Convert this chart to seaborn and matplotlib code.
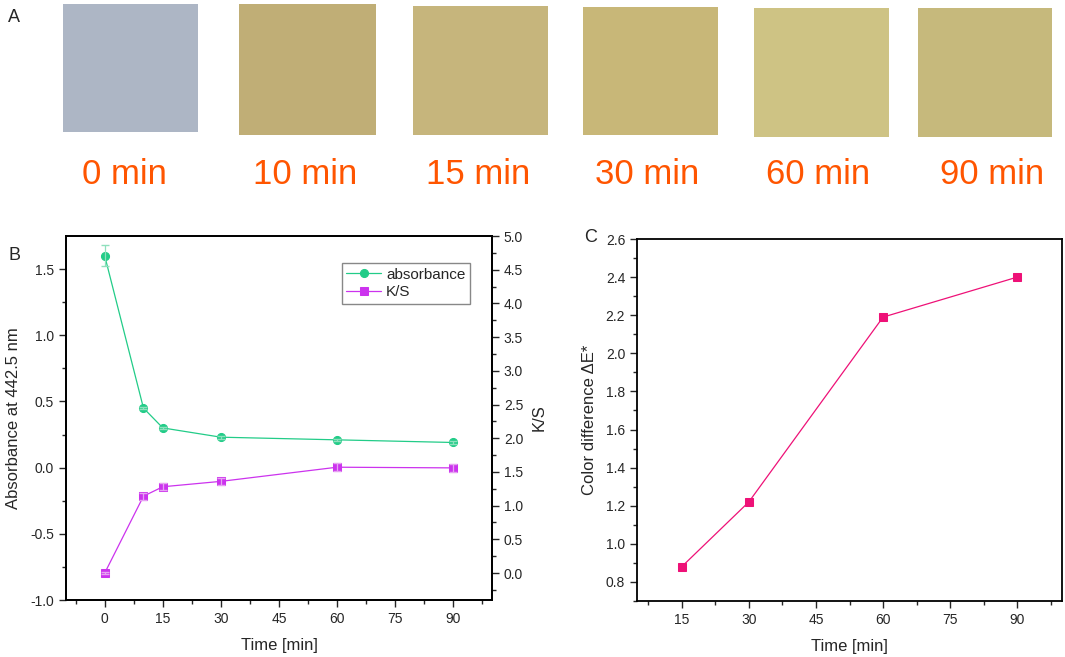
import numpy as np
import pandas as pd
import matplotlib.pyplot as plt
import seaborn as sns
from matplotlib.patches import Rectangle

sns.set_style("ticks")
plt.rcParams['font.family'] = ['Liberation Sans', 'DejaVu Sans']

# 데이터
swatch_labels = ["0 min", "10 min", "15 min", "30 min", "60 min", "90 min"]
swatch_colors = ["#adb6c5", "#c0ae76", "#c6b57c", "#c8b778", "#cec384", "#c6b97c"]

time_b = [0, 10, 15, 30, 60, 90]
absorbance = [1.60, 0.45, 0.30, 0.23, 0.21, 0.19]
absorbance_err = [0.08, 0.01, 0.01, 0.01, 0.01, 0.01]
ks = [0.0, 1.14, 1.28, 1.36, 1.57, 1.56]
ks_err = [0.01, 0.05, 0.05, 0.05, 0.06, 0.06]

time_c = [15, 30, 60, 90]
delta_e = [0.88, 1.22, 2.19, 2.40]

green = "#22cc88"
violet = "#cc33ee"
pink = "#ee1177"
orange = "#ff5500"

W, H = 1065, 657
fig = plt.figure(figsize=(W / 100, H / 100), dpi=100)

# ---- 패널 A : 원단 샘플 ----
ax_a = fig.add_axes([0, 0, 1, 1], zorder=-1)
ax_a.set_xlim(0, W)
ax_a.set_ylim(H, 0)
ax_a.axis("off")
boxes = [(63, 4, 198, 132), (239, 4, 376, 135), (413, 6, 548, 135),
         (583, 7, 718, 135), (754, 8, 889, 137), (918, 8, 1052, 137)]
label_x = [124, 305, 478, 647, 818, 992]
for (l, t, r, b), c, lab, lx in zip(boxes, swatch_colors, swatch_labels, label_x):
    ax_a.add_patch(Rectangle((l, t), r - l, b - t, facecolor=c, edgecolor="none"))
    ax_a.text(lx, 174, lab, color=orange, fontsize=25, ha="center", va="center")
ax_a.text(14, 17, "A", fontsize=13, ha="center", va="center")
ax_a.text(14, 255, "B", fontsize=13, ha="center", va="center")
ax_a.text(591, 238, "C", fontsize=13, ha="center", va="center")

# ---- 패널 B : absorbance / K/S ----
axb = fig.add_axes([66 / W, 1 - 600 / H, (492 - 66) / W, (600 - 236) / H])
axb2 = axb.twinx()

sns.lineplot(x=time_b, y=absorbance, ax=axb, color=green, marker="o",
             markersize=5.8, markeredgecolor=green, linewidth=0.9, label="absorbance",
             legend=False)
axb.errorbar(time_b, absorbance, yerr=absorbance_err, fmt="none",
             ecolor="#8fe0bd", elinewidth=0.9, capsize=3)
sns.lineplot(x=time_b, y=ks, ax=axb2, color=violet, marker="s",
             markersize=5.5, markeredgecolor=violet, linewidth=0.9, label="K/S",
             legend=False)
axb2.errorbar(time_b, ks, yerr=ks_err, fmt="none",
              ecolor="#e6a3f2", elinewidth=0.9, capsize=3)

axb.set_xlim(-10, 100)
axb.set_ylim(-1.0, 1.75)
axb2.set_ylim(-0.4, 5.0)
axb.set_xticks([0, 15, 30, 45, 60, 75, 90])
axb.set_xticks(np.arange(-7.5, 100, 15), minor=True)
axb.set_yticks([-1.0, -0.5, 0.0, 0.5, 1.0, 1.5])
axb.set_yticks(np.arange(-0.75, 1.75, 0.5), minor=True)
axb2.set_yticks(np.arange(0, 5.01, 0.5))
axb2.set_yticks(np.arange(-0.25, 5.0, 0.5), minor=True)
axb.set_yticklabels(["-1.0", "-0.5", "0.0", "0.5", "1.0", "1.5"])
axb2.set_yticklabels([f"{v:.1f}" for v in np.arange(0, 5.01, 0.5)])
axb.set_xlabel("Time [min]", fontsize=12, labelpad=9)
axb.set_ylabel("Absorbance at 442.5 nm", fontsize=12, labelpad=7)
axb2.set_ylabel("K/S", fontsize=12, labelpad=6)

for a in (axb, axb2):
    a.tick_params(which="major", length=5, width=1, labelsize=10, pad=3.5, direction="out")
    a.tick_params(which="minor", length=3, width=1, direction="out")
    for s in a.spines.values():
        s.set_linewidth(1.3)
        s.set_visible(True)
        s.set_color("black")

h1, l1 = axb.get_legend_handles_labels()
h2, l2 = axb2.get_legend_handles_labels()
leg = axb2.legend(h1 + h2, l1 + l2, loc="upper right", bbox_to_anchor=(0.948, 0.926),
                  borderaxespad=0, fontsize=11, fancybox=False, edgecolor="#888888",
                  framealpha=1, handlelength=2.3, borderpad=0.3, labelspacing=0.25,
                  handletextpad=0.3)
leg.get_frame().set_linewidth(1.0)

# ---- 패널 C : 색차 ----
axc = fig.add_axes([637 / W, 1 - 601 / H, (1062 - 637) / W, (601 - 239) / H])
sns.lineplot(x=time_c, y=delta_e, ax=axc, color=pink, marker="s", markersize=5.5,
             markeredgecolor=pink, linewidth=0.9)
axc.set_xlim(5, 100)
axc.set_ylim(0.7, 2.6)
axc.set_xticks([15, 30, 45, 60, 75, 90])
axc.set_xticks(np.arange(7.5, 100, 15), minor=True)
axc.set_yticks(np.arange(0.8, 2.61, 0.2))
axc.set_yticks(np.arange(0.7, 2.6, 0.2), minor=True)
axc.set_yticklabels([f"{v:.1f}" for v in np.arange(0.8, 2.61, 0.2)])
axc.set_xlabel("Time [min]", fontsize=12, labelpad=9)
axc.set_ylabel("Color difference ΔE*", fontsize=12, labelpad=6)
axc.tick_params(which="major", length=5, width=1, labelsize=10, pad=3.5, direction="out")
axc.tick_params(which="minor", length=3, width=1, direction="out")
for s in axc.spines.values():
    s.set_linewidth(1.3)
    s.set_visible(True)
    s.set_color("black")

fig.savefig("out.png", dpi=100)
